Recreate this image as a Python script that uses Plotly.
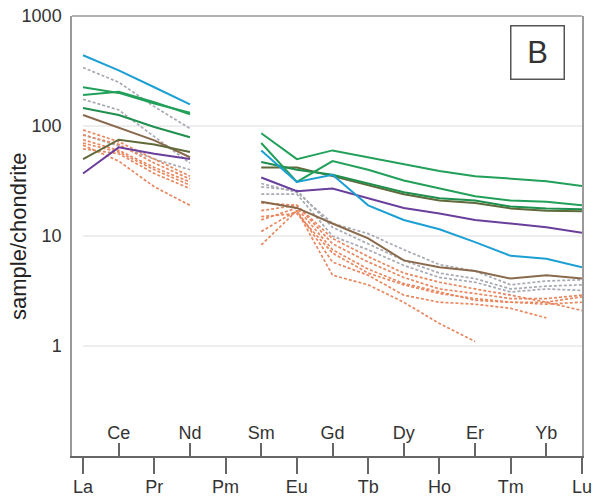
import plotly.graph_objects as go

# Rare earth elements in atomic order (Pm left empty: not analysed)
elements = ["La", "Ce", "Pr", "Nd", "Pm", "Sm", "Eu", "Gd", "Tb", "Dy", "Ho", "Er", "Tm", "Yb", "Lu"]
positions = list(range(len(elements)))

# Chondrite-normalised REE patterns (None = not determined)
cyan_sample = [440, 320, 225, 157, None, 60, 31, 36, 19, 14, 11.5, 8.8, 6.6, 6.2, 5.2]
green_sample_1 = [225, 200, 160, 132, None, 86, 50, 60, 52, 45, 39, 35, 33, 31.5, 28.5]
green_sample_2 = [191, 205, 165, 128, None, 70, 31, 48, 40, 32, 27, 23, 21, 20.5, 19]
green_sample_3 = [146, 126, 98, 79, None, 47, 40, 36, 30, 25, 22, 21, 18.5, 17.8, 17.5]
olive_sample = [50, 75, 68, 58, None, 42, 42, 35, 29, 24, 21, 20, 17.8, 17, 16.8]
brown_sample = [126, 97, 74, 52, None, 20.5, 18, 13, 9.5, 6, 5.2, 4.8, 4.1, 4.4, 4.1]
purple_sample = [37, 64, 56, 50, None, 34, 25.5, 27, 22, 18, 16, 14, 13, 12, 10.7]

grey_dashed = [
    [340, 250, 150, 95, None, 30, 25, 13, 10.5, 7.5, 5.5, 4.8, 3.6, 3.9, 4.0],
    [175, 140, 80, 46, None, 28, 26, 12, 8.5, 6.0, 4.6, 4.1, 3.3, 3.5, 3.6],
    [83, 66, 50, 40, None, 24, 24, 10, 7.5, 5.4, 4.2, 3.8, 3.1, 3.3, 3.2],
]
orange_dashed = [
    [92, 72, 50, 35, None, 20, 19, 9.5, 6.5, 4.6, 3.8, 3.3, 2.9, 2.5, 2.1],
    [83, 68, 46, 33, None, 17, 19, 8.5, 5.8, 4.2, 3.3, 3.0, 2.7, 2.7, 2.9],
    [75, 60, 42, 31, None, 14, 18, 7.5, 5.0, 3.7, 3.1, 2.6, 2.5, 2.5, 2.8],
    [70, 58, 40, 29, None, 11, 17, 5.8, 4.4, 2.9, 2.5, 2.4, 2.2, 1.8, None],
    [62, 56, 37, 27, None, 8.3, 17, 4.4, 3.6, 2.5, 1.6, 1.1, None, None, None],
    [67, 48, 28, 19, None, 15, 16, 7, 4.6, 3.6, 3.0, 2.7, 2.5, 2.4, 2.5],
]

y_ticks = [0.1, 1, 10, 100, 1000]
y_tick_text = ["0.1", "1", "10", "100", "1000"]
grid_levels = [1, 10, 100]

FONT = "Liberation Sans, Arial, sans-serif"
GREY = "#a7a9b3"
ORANGE = "#e9875f"
TEXT = "#333333"
AXIS = "#666666"

fig = go.Figure()

for row in grey_dashed:
    fig.add_trace(go.Scatter(x=positions, y=row, mode="lines",
                             line=dict(color=GREY, width=1.7, dash="3px,2px")))
for row in orange_dashed:
    fig.add_trace(go.Scatter(x=positions, y=row, mode="lines",
                             line=dict(color=ORANGE, width=1.7, dash="3px,2px")))

solid = [
    (brown_sample, "#8a6a4c"),
    (olive_sample, "#5f6a3a"),
    (purple_sample, "#6a3f9c"),
    (green_sample_3, "#1f8f4e"),
    (green_sample_2, "#22a05a"),
    (green_sample_1, "#22a05a"),
    (cyan_sample, "#1c9fd2"),
]
for values, colour in solid:
    fig.add_trace(go.Scatter(x=positions, y=values, mode="lines",
                             line=dict(color=colour, width=2)))

# invisible traces so the extra x axes (element labels) are drawn
for axis_name in ("x2", "x3"):
    fig.add_trace(go.Scatter(x=positions, y=[None] * len(positions), xaxis=axis_name,
                             mode="lines", hoverinfo="skip"))

shapes = []
for level in grid_levels:
    shapes.append(dict(type="line", xref="x", yref="y", x0=0, x1=14, y0=level, y1=level,
                       line=dict(color="#dcdcdc", width=1), layer="below"))
shapes.append(dict(type="line", xref="paper", yref="paper", x0=0, x1=1, y0=1, y1=1,
                   line=dict(color="#9a9a9a", width=1.5)))

common_x = dict(range=[-0.31, 14], tickmode="array", automargin=False,
                showgrid=False, zeroline=False,
                tickfont=dict(size=18, color=TEXT))

fig.update_layout(
    width=593, height=497,
    margin=dict(l=72, r=11, t=16, b=41),
    paper_bgcolor="white", plot_bgcolor="white",
    showlegend=False,
    font=dict(family=FONT, size=18, color=TEXT),
    shapes=shapes,
    # lower ticks (La, Pr, Pm, ...) drawn outside the frame
    xaxis=dict(
        **common_x,
        tickvals=positions[0::2], showticklabels=False,
        ticks="outside", ticklen=16, tickwidth=1.5, tickcolor=AXIS,
        showline=True, linecolor=AXIS, linewidth=1.5,
    ),
    # upper ticks and labels (Ce, Nd, Sm, ...) drawn inside the frame
    xaxis2=dict(
        **common_x,
        overlaying="x", anchor="y", side="bottom",
        tickvals=positions[1::2], ticktext=elements[1::2],
        ticks="inside", ticklen=13, tickwidth=1.5, tickcolor=AXIS,
        ticklabelposition="inside", ticklabelstandoff=1,
        showline=False,
    ),
    # labels for the lower ticks
    xaxis3=dict(
        **common_x,
        overlaying="x", anchor="y", side="bottom",
        tickvals=positions[0::2], ticktext=elements[0::2],
        ticks="outside", ticklen=14, tickcolor="rgba(0,0,0,0)",
        showline=False,
    ),
    yaxis=dict(
        type="log", range=[-1, 3], automargin=False,
        tickmode="array", tickvals=y_ticks, ticktext=y_tick_text,
        ticks="outside", ticklen=5, tickcolor="rgba(0,0,0,0)",
        showline=True, linecolor="#9a9a9a", linewidth=1.5, mirror=True,
        showgrid=False, zeroline=False,
        tickfont=dict(size=18, color=TEXT),
    ),
    annotations=[
        dict(text="sample/chondrite", xref="paper", yref="paper", x=-0.106, y=0.5,
             textangle=-90, showarrow=False, xanchor="center", yanchor="middle",
             font=dict(size=22, color="#222222", family=FONT)),
        dict(text="B", xref="paper", yref="paper", x=0.913, y=0.916,
             showarrow=False, font=dict(size=31, color=TEXT, family=FONT),
             bordercolor="#555555", borderwidth=1.5, width=50, height=50,
             xanchor="center", yanchor="middle", bgcolor="white"),
    ],
)

fig.write_html("out.html")
